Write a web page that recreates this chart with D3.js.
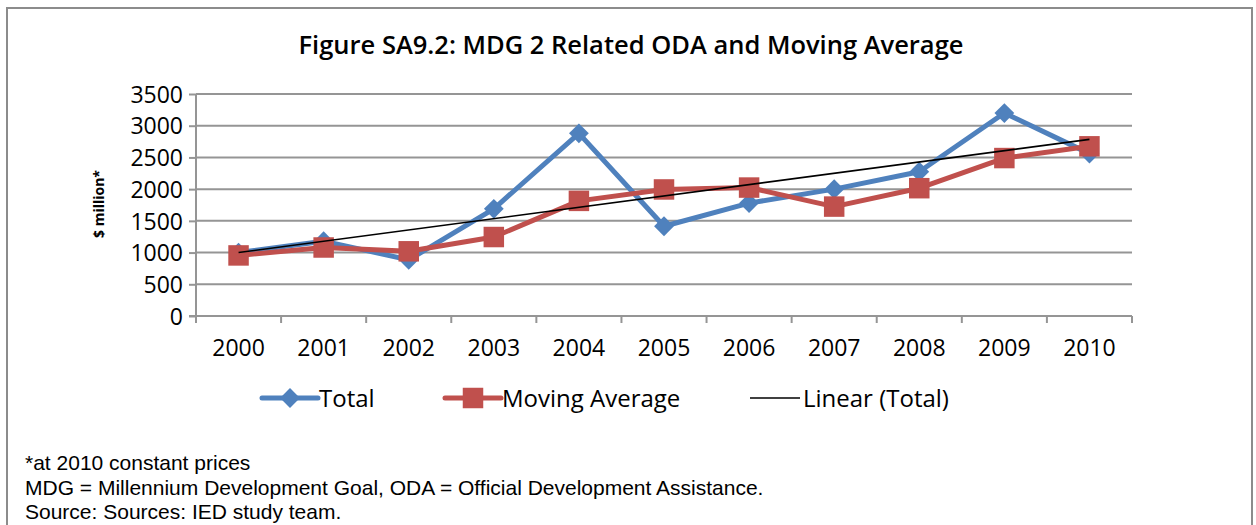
<!DOCTYPE html>
<html>
<head>
<meta charset="utf-8">
<script src="https://cdn.jsdelivr.net/npm/d3@7"></script>
<style>
  body { margin: 0; background: #fff; }
  svg { font-family: "Open Sans", "Noto Sans", sans-serif; }
</style>
</head>
<body>
<script>
// chart data
var years = ["2000", "2001", "2002", "2003", "2004", "2005", "2006", "2007", "2008", "2009", "2010"];
var total = [1000, 1180, 885, 1690, 2880, 1415, 1780, 2000, 2275, 3200, 2560];
var movingAvg = [955, 1080, 1020, 1245, 1815, 1995, 2025, 1725, 2015, 2490, 2675];
var trendEnds = [1000, 2785];   // Linear (Total) at 2000 and 2010
var yTicks = [0, 500, 1000, 1500, 2000, 2500, 3000, 3500];
var legendNames = ["Total", "Moving Average", "Linear (Total)"];
var notes = ["*at 2010 constant prices",
             "MDG = Millennium Development Goal, ODA = Official Development Assistance.",
             "Source: Sources: IED study team."];

var blue = "#4f81bd", red = "#c0504d", grid = "#959595";

var svg = d3.select("body").append("svg").attr("width", 1256).attr("height", 525);

// outer frame
svg.append("rect")
    .attr("x", 7).attr("y", 8).attr("width", 1245).attr("height", 530)
    .attr("fill", "none").attr("stroke", "#8c8c8c").attr("stroke-width", 2);

svg.append("text")
    .attr("x", 631).attr("y", 54)
    .attr("text-anchor", "middle")
    .attr("font-size", 25.5).attr("font-weight", 600)
    .text("Figure SA9.2: MDG 2 Related ODA and Moving Average");

var margin = {top: 94, left: 196},
    width = 936, height = 222;

var g = svg.append("g").attr("transform", "translate(" + margin.left + "," + margin.top + ")");

var x = d3.scaleBand().domain(years).range([0, width]);
var y = d3.scaleLinear().domain([0, 3500]).range([height, 0]);

// gridlines
g.selectAll(".grid").data(yTicks.slice(1)).enter().append("line")
    .attr("x1", 0).attr("x2", width)
    .attr("y1", function(d) { return y(d); }).attr("y2", function(d) { return y(d); })
    .attr("stroke", grid).attr("stroke-width", 2);

// y axis
var yAxis = g.append("g")
    .call(d3.axisLeft(y).tickValues(yTicks).tickFormat(d3.format("d")).tickSize(7).tickPadding(6));
yAxis.selectAll("line, path").attr("stroke", grid).attr("stroke-width", 2);
yAxis.select(".domain").attr("d", "M0," + (height + 1) + "V0");
yAxis.selectAll("text").attr("font-size", 23).attr("fill", "#000")
    .attr("font-family", "'Open Sans', sans-serif").attr("dy", "0.36em");

// x axis, ticks between categories
var bounds = d3.range(years.length + 1).map(function(i) { return i * x.bandwidth(); });
g.append("line").attr("x1", -7).attr("x2", width).attr("y1", height).attr("y2", height)
    .attr("stroke", grid).attr("stroke-width", 2);
g.selectAll(".xtick").data(bounds).enter().append("line")
    .attr("x1", function(d) { return d; }).attr("x2", function(d) { return d; })
    .attr("y1", height).attr("y2", height + 7)
    .attr("stroke", grid).attr("stroke-width", 2);
g.selectAll(".xlab").data(years).enter().append("text")
    .attr("x", function(d) { return x(d) + x.bandwidth() / 2; })
    .attr("y", height + 40)
    .attr("text-anchor", "middle").attr("font-size", 23)
    .text(function(d) { return d; });

// y label
svg.append("text")
    .attr("transform", "translate(104,204) rotate(-90)")
    .attr("text-anchor", "middle").attr("font-size", 14).attr("font-weight", 700)
    .text("$ million*");

var cx = function(d, i) { return x(years[i]) + x.bandwidth() / 2; };

var line = d3.line()
    .x(function(d, i) { return cx(d, i); })
    .y(function(d) { return y(d); });

var diamond = d3.symbol().type(d3.symbolDiamond2).size(250);
var square = d3.symbol().type(d3.symbolSquare).size(420);

g.append("path").datum(total)
    .attr("fill", "none").attr("stroke", blue).attr("stroke-width", 5)
    .attr("stroke-linejoin", "round").attr("d", line);
g.selectAll(".dia").data(total).enter().append("path")
    .attr("transform", function(d, i) { return "translate(" + cx(d, i) + "," + y(d) + ")"; })
    .attr("d", diamond).attr("fill", blue);

g.append("path").datum(movingAvg)
    .attr("fill", "none").attr("stroke", red).attr("stroke-width", 5)
    .attr("stroke-linejoin", "round").attr("d", line);
g.selectAll(".sq").data(movingAvg).enter().append("path")
    .attr("transform", function(d, i) { return "translate(" + cx(d, i) + "," + y(d) + ")"; })
    .attr("d", square).attr("fill", red);

// trend line
g.append("line")
    .attr("x1", x(years[0]) + x.bandwidth() / 2).attr("y1", y(trendEnds[0]))
    .attr("x2", x(years[years.length - 1]) + x.bandwidth() / 2).attr("y2", y(trendEnds[1]))
    .attr("stroke", "#000").attr("stroke-width", 1.6);

// legend
var legX = [262, 445, 750], legY = 398;
var leg = svg.selectAll(".leg").data(legendNames).enter().append("g")
    .attr("transform", function(d, i) { return "translate(" + legX[i] + "," + legY + ")"; });
leg.append("line")
    .attr("x1", 0).attr("x2", function(d, i) { return i == 2 ? 50 : 56; })
    .attr("stroke", function(d, i) { return [blue, red, "#000"][i]; })
    .attr("stroke-width", function(d, i) { return i == 2 ? 1.6 : 5; })
    .attr("stroke-linecap", function(d, i) { return i == 2 ? "butt" : "round"; });
leg.filter(function(d, i) { return i == 0; }).append("path")
    .attr("transform", "translate(28,0)").attr("d", diamond).attr("fill", blue);
leg.filter(function(d, i) { return i == 1; }).append("path")
    .attr("transform", "translate(28,0)").attr("d", square).attr("fill", red);
leg.append("text")
    .attr("x", function(d, i) { return i == 2 ? 53 : 57; })
    .attr("dy", "0.36em").attr("font-size", 24)
    .text(function(d) { return d; });

// footnotes
svg.selectAll(".note").data(notes).enter().append("text")
    .attr("x", 25).attr("y", function(d, i) { return 470 + i * 24.5; })
    .attr("font-family", "'Liberation Sans', Arial, sans-serif")
    .attr("font-size", 21)
    .text(function(d) { return d; });
</script>
</body>
</html>
